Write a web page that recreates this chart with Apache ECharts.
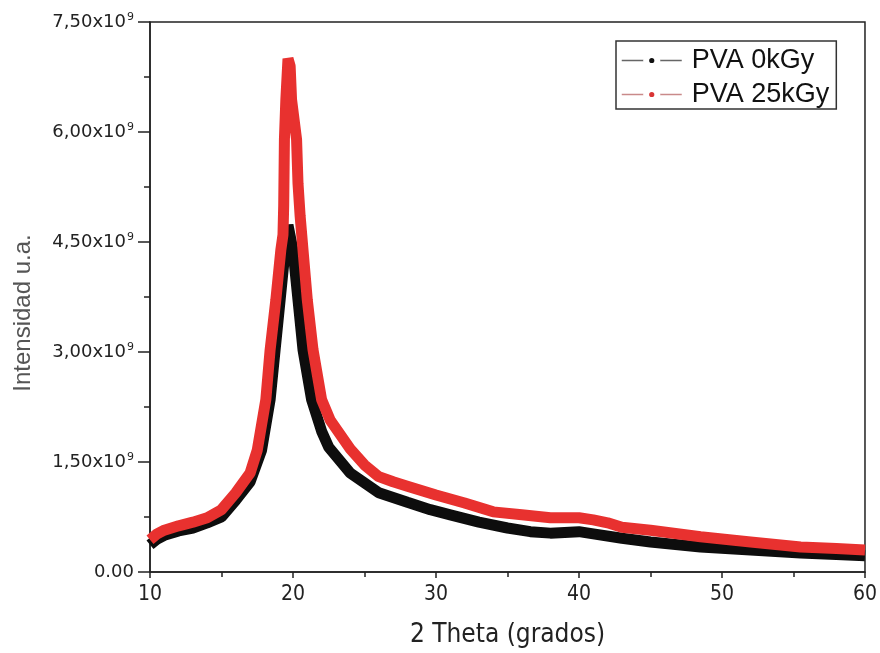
<!DOCTYPE html>
<html>
<head>
<meta charset="utf-8">
<script src="https://cdn.jsdelivr.net/npm/echarts@6/dist/echarts.min.js"></script>
<style>
html,body{margin:0;padding:0;background:#fff;}
#chart{width:880px;height:653px;}
</style>
</head>
<body>
<div id="chart"></div>
<script>
// 2 Theta (degrees) and intensity (units of 10^9)
const theta0kGy = [10, 10.5, 11, 12, 13, 14, 15, 16, 17, 17.8, 18.4, 18.75, 19.1, 19.45, 19.65, 20.0, 20.35, 20.7, 21.3, 22.0, 22.5, 24, 26, 28, 29.6, 31, 33, 35, 36.6, 38, 40, 41, 43, 45, 48.5, 52, 55.5, 58, 60];
const int0kGy   = [0.37, 0.45, 0.50, 0.56, 0.60, 0.67, 0.75, 0.98, 1.23, 1.66, 2.35, 3.03, 3.71, 4.39, 4.73, 4.39, 3.71, 3.03, 2.35, 1.92, 1.70, 1.35, 1.08, 0.95, 0.85, 0.78, 0.68, 0.60, 0.55, 0.53, 0.55, 0.52, 0.46, 0.41, 0.34, 0.30, 0.26, 0.24, 0.22];

const theta25kGy = [10, 10.5, 11, 12, 13, 14, 15, 16, 17, 17.5, 18.1, 18.4, 18.8, 19.15, 19.3, 19.35, 19.4, 19.5, 19.65, 19.8, 19.9, 20.25, 20.35, 20.5, 20.7, 21.0, 21.4, 22.0, 22.6, 24, 25, 26, 27, 28, 30, 32, 34, 36, 38, 40, 41, 42, 43, 45, 48.5, 52, 55.5, 58, 60];
const int25kGy   = [0.44, 0.52, 0.57, 0.63, 0.68, 0.74, 0.85, 1.08, 1.35, 1.66, 2.35, 3.03, 3.71, 4.39, 4.60, 5.00, 5.90, 6.44, 7.00, 6.90, 6.44, 5.90, 5.30, 4.85, 4.39, 3.71, 3.03, 2.35, 2.07, 1.68, 1.46, 1.30, 1.23, 1.17, 1.05, 0.94, 0.82, 0.78, 0.74, 0.74, 0.71, 0.67, 0.61, 0.57, 0.48, 0.41, 0.34, 0.32, 0.30];

const seriesNames = ['PVA 0kGy', 'PVA 25kGy'];
const xTicks = {min: 10, max: 60, interval: 10};
const yTicks = {min: 0, max: 7.5, interval: 1.5};
const xTitle = '2 Theta (grados)';
const yTitle = 'Intensidad u.a.';

const pairs = (xs, ys) => xs.map((x, i) => [x, ys[i]]);

const chart = echarts.init(document.getElementById('chart'), null, {renderer: 'canvas'});
const narrow = "'Liberation Sans Narrow', 'DejaVu Sans Condensed', sans-serif";
const sans = "'Liberation Sans', Arial, sans-serif";
const wide = "'DejaVu Sans', sans-serif";

chart.setOption({
  backgroundColor: '#fff',
  animation: false,
  grid: {left: 150, right: 15, top: 22, bottom: 81, show: true, borderColor: '#222', borderWidth: 1.5, backgroundColor: 'transparent'},
  graphic: [{
    type: 'text', x: 23, y: 313, rotation: Math.PI / 2,
    style: {text: yTitle, fontSize: 24, fontFamily: sans, fill: '#555', align: 'center', verticalAlign: 'middle'}
  }],
  legend: {
    orient: 'vertical',
    left: 616, top: 41,
    itemWidth: 60, itemHeight: 14, itemGap: 7,
    padding: [6, 7, 1, 5],
    borderColor: '#333', borderWidth: 1.5,
    textStyle: {fontSize: 27, lineHeight: 26, color: '#111', fontFamily: sans, padding: [0, 0, 0, 5]},
    data: [
      {name: seriesNames[0], itemStyle: {color: '#111', borderColor: '#fff', borderWidth: 6}, lineStyle: {color: '#666', width: 1.5}},
      {name: seriesNames[1], itemStyle: {color: '#d93535', borderColor: '#fff', borderWidth: 6}, lineStyle: {color: '#c98a8a', width: 1.5}}
    ]
  },
  xAxis: {
    type: 'value', min: xTicks.min, max: xTicks.max, interval: xTicks.interval,
    name: xTitle, nameLocation: 'middle', nameGap: 50,
    nameTextStyle: {fontSize: 26, color: '#222', fontFamily: narrow},
    axisLine: {show: true, lineStyle: {color: '#222', width: 1.5}},
    axisTick: {show: true, length: 6, lineStyle: {color: '#222', width: 1.5}},
    minorTick: {show: true, splitNumber: 2, length: 5, lineStyle: {color: '#222', width: 1.5}},
    axisLabel: {fontSize: 21, color: '#222', fontFamily: narrow, margin: 12},
    splitLine: {show: false}
  },
  yAxis: {
    type: 'value', min: yTicks.min, max: yTicks.max, interval: yTicks.interval,
    axisLine: {show: true, lineStyle: {color: '#222', width: 1.5}},
    axisTick: {show: true, length: 12, lineStyle: {color: '#222', width: 1.5}},
    minorTick: {show: true, splitNumber: 2, length: 6, lineStyle: {color: '#222', width: 1.5}},
    axisLabel: {
      margin: 16, color: '#222', fontFamily: wide,
      formatter: v => v === 0 ? '{a|0.00}' : '{a|' + v.toFixed(2).replace('.', ',') + 'x10}{s|9}',
      rich: {
        a: {fontSize: 18, color: '#222', fontFamily: wide},
        s: {fontSize: 11, color: '#222', fontFamily: wide, verticalAlign: 'top', padding: [0, 0, 9, 1]}
      }
    },
    splitLine: {show: false}
  },
  series: [
    {
      name: seriesNames[0], type: 'line', data: pairs(theta0kGy, int0kGy),
      showSymbol: false, symbol: 'circle', symbolSize: 12,
      itemStyle: {color: '#111'},
      lineStyle: {color: '#0d0d0d', width: 11},
      z: 2
    },
    {
      name: seriesNames[1], type: 'line', data: pairs(theta25kGy, int25kGy),
      showSymbol: false, symbol: 'circle', symbolSize: 12,
      itemStyle: {color: '#d93535'},
      lineStyle: {color: '#e8312f', width: 11},
      z: 3
    }
  ]
});
</script>
</body>
</html>
